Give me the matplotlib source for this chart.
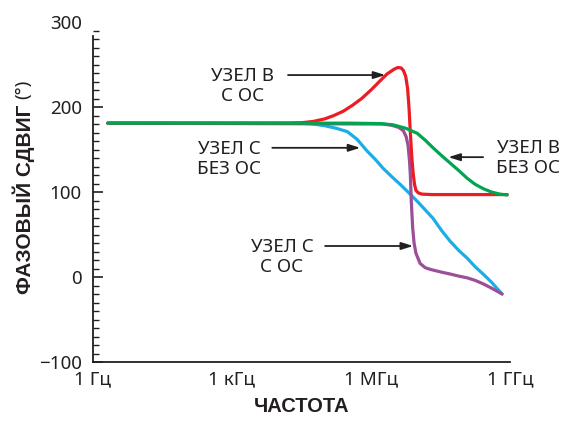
import numpy as np
import matplotlib
matplotlib.use("Agg")
import matplotlib.pyplot as plt
from matplotlib.ticker import MultipleLocator, NullLocator

plt.rcParams['font.family'] = ['Noto Sans', 'DejaVu Sans']
main_size = 13.5
bold_font = ['Liberation Sans', 'DejaVu Sans']

# frequency as decades (log10 Hz), phase in degrees
green_dec = [0.32, 5.55, 6.2, 6.48, 6.75, 7.0, 7.17, 7.34, 7.52, 7.71, 7.9, 8.08, 8.25, 8.42, 8.6, 8.78, 8.94]
green_deg = [181, 181, 180.5, 179, 175, 169, 161, 152, 143, 134, 125, 116, 109, 104, 100, 97.5, 96.5]

red_dec = [0.32, 4.25, 4.5, 4.75, 5.0, 5.2, 5.4, 5.6, 5.8, 6.0, 6.2, 6.35, 6.5, 6.58, 6.65, 6.7, 6.75,
           6.79, 6.82, 6.85, 6.88, 6.91, 6.94, 6.97, 7.02, 7.1, 7.3, 8.0, 8.94]
red_deg = [181, 181, 181.5, 183, 186, 190, 195, 202, 210, 220, 231, 239, 244.5, 246.5, 246, 243, 236,
           222, 200, 170, 142, 122, 109, 102, 99, 97.5, 97, 97, 97]

blue_dec = [0.32, 4.5, 4.75, 5.0, 5.25, 5.49, 5.7, 5.92, 6.1, 6.26, 6.45, 6.63, 6.8, 7.0, 7.17, 7.34,
            7.52, 7.71, 7.9, 8.08, 8.25, 8.42, 8.6, 8.83]
blue_deg = [181, 181, 180, 178, 175, 171, 162, 148, 138, 128, 118, 109, 100, 89, 79, 69,
            55, 42, 31, 22, 12, 3.5, -6, -20]

purple_dec = [0.32, 6.26, 6.45, 6.6, 6.7, 6.76, 6.8, 6.83, 6.85, 6.87, 6.9, 6.93, 6.97, 7.06, 7.17,
              7.28, 7.5, 7.71, 7.9, 8.08, 8.25, 8.42, 8.6, 8.83]
purple_deg = [181, 180, 178.5, 176, 172, 165, 155, 138, 120, 89, 58, 40, 28, 16, 11,
              9, 6, 3.5, 1, -1, -4, -8, -13, -20]

x_ticks = [1, 1e3, 1e6, 1e9]
x_labels = ['1 Гц', '1 кГц', '1 МГц', '1 ГГц']
y_ticks = [-100, 0, 100, 200, 300]

ink = '#231f20'

fig = plt.figure(figsize=(5.66, 4.25), dpi=100)
ax = fig.add_axes([0.1643, 0.1482, 0.7367, 0.8])

lw = 2.3
ax.plot(10.0 ** np.array(blue_dec), blue_deg, color='#1aaee6', lw=lw, solid_capstyle='round')
ax.plot(10.0 ** np.array(purple_dec), purple_deg, color='#9c4f96', lw=lw, solid_capstyle='round')
ax.plot(10.0 ** np.array(red_dec), red_deg, color='#ec1c24', lw=lw, solid_capstyle='round')
ax.plot(10.0 ** np.array(green_dec), green_deg, color='#00a550', lw=lw, solid_capstyle='round')

ax.set_xscale('log')
ax.set_xlim(1, 1e9)
ax.set_ylim(-100, 300)
ax.set_xticks(x_ticks)
ax.set_xticklabels(x_labels, fontsize=main_size, color=ink)
ax.xaxis.set_minor_locator(NullLocator())
ax.tick_params(axis='x', length=0, pad=6)

ax.set_yticks(y_ticks)
ax.set_yticklabels([str(v).replace('-', '\u2212') for v in y_ticks], fontsize=main_size, color=ink)
ax.yaxis.set_minor_locator(MultipleLocator(10))
ax.tick_params(axis='y', which='major', direction='in', length=7, width=1.2, pad=8, color=ink)
ax.tick_params(axis='y', which='minor', direction='in', length=4, width=1.0, color=ink)
ax.yaxis.get_major_ticks()[-1].tick1line.set_visible(False)

for s in ['top', 'right']:
    ax.spines[s].set_visible(False)
ax.spines['left'].set_bounds(-100, 283)
for s in ['left', 'bottom']:
    ax.spines[s].set_linewidth(1.3)
    ax.spines[s].set_color(ink)

ax.set_xlabel('ЧАСТОТА', fontsize=14.5, fontweight='bold', family=bold_font, color=ink, labelpad=6)
fig.text(24 / 566, 1 - 199 / 425, 'ФАЗОВЫЙ СДВИГ', rotation=90, ha='center', va='center',
         fontsize=15, fontweight='bold', family=bold_font, color=ink)
fig.text(23 / 566, 1 - 89 / 425, '(°)', rotation=90, ha='center', va='center',
         fontsize=main_size, color=ink)

# annotations: (text, text pos, arrow tail, arrow tip)
notes = [
    ('УЗЕЛ В\nС ОС', (3.22, 224.7), (4.21, 237.6), (6.31, 237.6)),
    ('УЗЕЛ С\nБЕЗ ОС', (2.94, 139), (3.87, 152), (5.77, 152)),
    ('УЗЕЛ В\nБЕЗ ОС', (9.40, 140), (8.42, 141), (7.67, 141)),
    ('УЗЕЛ С\nС ОС', (4.08, 23.5), (5.01, 36.5), (6.91, 36.5)),
]
for txt, pos, tail, tip in notes:
    ax.text(10 ** pos[0], pos[1], txt, ha='center', va='center', fontsize=main_size,
            color=ink, linespacing=1.15, clip_on=False)
    ax.annotate('', xy=(10 ** tip[0], tip[1]), xytext=(10 ** tail[0], tail[1]),
                arrowprops=dict(arrowstyle='-|>,head_length=0.7,head_width=0.22',
                                color=ink, lw=1.3, shrinkA=0, shrinkB=0),
                annotation_clip=False)

fig.savefig('out.png', dpi=100)
